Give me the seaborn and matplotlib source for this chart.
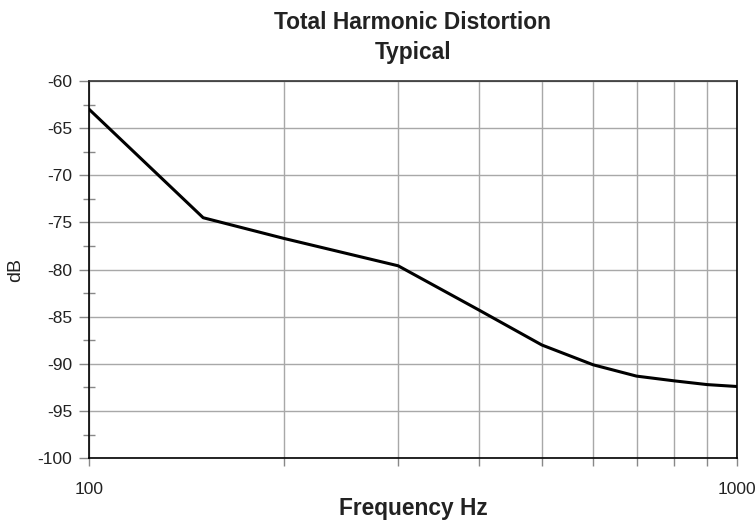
import seaborn as sns
import matplotlib.pyplot as plt
import matplotlib.ticker as mticker
import pandas as pd

# values
freq_hz = [100, 150, 200, 300, 400, 500, 600, 700, 800, 900, 1000]
thd_db = [-63.0, -74.5, -76.7, -79.6, -84.3, -88.0, -90.1, -91.3, -91.8, -92.2, -92.4]

y_ticks = [-100, -95, -90, -85, -80, -75, -70, -65, -60]
x_ticks = [100, 1000]

df = pd.DataFrame({"Frequency Hz": freq_hz, "dB": thd_db})

sns.set_style("white")
plt.rcParams["font.family"] = ["Liberation Sans", "DejaVu Sans"]
plt.rcParams["axes.unicode_minus"] = False
plt.rcParams["xtick.bottom"] = True
plt.rcParams["ytick.left"] = True

fig = plt.figure(figsize=(7.55, 5.26), dpi=100)
ax = fig.add_axes([0.118, 0.129, 0.858, 0.717])

sns.lineplot(data=df, x="Frequency Hz", y="dB", color="black", linewidth=2.2, ax=ax)

ax.set_xscale("log")
ax.set_xlim(100, 1000)
ax.set_ylim(-100, -60)

ax.xaxis.set_major_locator(mticker.FixedLocator(x_ticks))
ax.xaxis.set_major_formatter(mticker.FixedFormatter([str(t) for t in x_ticks]))
ax.xaxis.set_minor_locator(mticker.LogLocator(base=10, subs=range(2, 10)))
ax.xaxis.set_minor_formatter(mticker.NullFormatter())

ax.set_yticks(y_ticks)
ax.yaxis.set_minor_locator(mticker.MultipleLocator(2.5))

ax.grid(True, which="both", axis="x", color="#a8a8a8", linewidth=1)
ax.grid(True, which="major", axis="y", color="#a8a8a8", linewidth=1)

ax.tick_params(axis="y", which="major", direction="out", length=7, width=1,
               color="#888888", labelsize=12.5, pad=5, labelcolor="#222222")
ax.tick_params(axis="y", which="minor", direction="inout", length=9, width=1,
               color="#888888")
ax.tick_params(axis="x", which="both", direction="out", length=6, width=1,
               color="#888888", labelsize=12.5, pad=11, labelcolor="#222222")

for side in ["left", "bottom", "right", "top"]:
    ax.spines[side].set_visible(True)
    ax.spines[side].set_color("black")
    ax.spines[side].set_linewidth(1.2)
ax.spines["top"].set_color("#333333")

fig.text(0.547, 0.957, "Total Harmonic Distortion", ha="center", va="center",
         fontsize=16.4, fontweight="bold", color="#222222")
fig.text(0.547, 0.900, "Typical", ha="center", va="center",
         fontsize=16.4, fontweight="bold", color="#222222")
ax.set_xlabel("Frequency Hz", fontsize=16.4, fontweight="bold", color="#222222", labelpad=0)
ax.set_ylabel("dB", fontsize=14, color="#222222", labelpad=10)

plt.savefig("out.png", dpi=100)
